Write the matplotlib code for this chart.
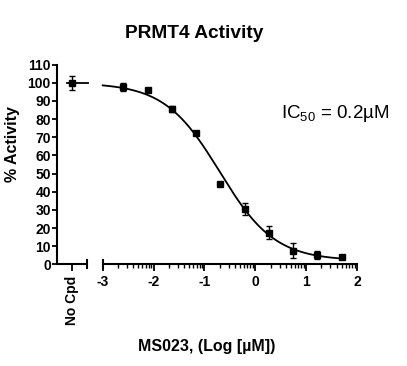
import matplotlib
matplotlib.use("Agg")
import matplotlib.pyplot as plt
import matplotlib.transforms as mtransforms
import numpy as np

plt.rcParams['font.family'] = ['Liberation Sans', 'DejaVu Sans']
plt.rcParams['mathtext.default'] = 'regular'

# data
log_conc = [-2.594, -2.117, -1.640, -1.163, -0.686, -0.209, 0.268, 0.745, 1.222, 1.699]
activity = [97.8, 96.2, 85.6, 72.4, 44.4, 30.5, 17.5, 7.5, 5.1, 4.2]
act_err = [2.2, 0.0, 1.5, 0.0, 0.0, 3.4, 3.8, 4.3, 2.0, 0.0]
no_cpd_x = -3.61
no_cpd_val = 100.0
no_cpd_err = 3.9

# 4PL fit parameters for the drawn curve
fit_top = 100.0
fit_bottom = 2.0
fit_logic50 = -0.7
fit_hill = 0.8

xticks = [-3, -2, -1, 0, 1, 2]
yticks = list(range(0, 111, 10))

fig = plt.figure(figsize=(4.07, 3.66), dpi=100)
ax = fig.add_axes([57/407, 1-264.3/366, 300/407, 199.6/366])
ax.set_xlim(-3.9, 2.0)
ax.set_ylim(0, 110)

# fitted curve
xc = np.linspace(-3.0, 1.7, 300)
yc = fit_bottom + (fit_top-fit_bottom)/(1+10**((xc-fit_logic50)*fit_hill))
ax.plot(xc, yc, color='black', lw=1.3, clip_on=False)

ax.errorbar(log_conc, activity, yerr=act_err, fmt='s', color='black', ms=4.5,
            elinewidth=1.0, capsize=2.2, capthick=1.0, clip_on=False)

# no compound control
ax.plot([-3.71, -3.29], [no_cpd_val, no_cpd_val], color='black', lw=1.3, clip_on=False)
ax.errorbar([no_cpd_x], [no_cpd_val], yerr=[no_cpd_err], fmt='s', color='black', ms=4.5,
            elinewidth=1.0, capsize=2.2, capthick=1.0, clip_on=False)

# axes / broken x axis
for s in ['top', 'right']:
    ax.spines[s].set_visible(False)
ax.spines['left'].set_linewidth(1.5)
ax.spines['bottom'].set_linewidth(1.5)
ax.spines['bottom'].set_bounds(-3, 2)
ax.plot([-3.9, -3.31], [0, 0], color='black', lw=1.5, clip_on=False, solid_capstyle='butt')
trans = mtransforms.blended_transform_factory(ax.transData, ax.transAxes)
for xe in [-3.31, -3.0]:
    ax.plot([xe, xe], [-0.02, 0.02], color='black', lw=1.5, transform=trans, clip_on=False)

ax.set_xticks([no_cpd_x] + xticks)
ax.set_xticklabels(['No Cpd'] + [str(t) for t in xticks], fontsize=10, fontweight='bold')
ax.get_xticklabels()[0].set_rotation(90)
ax.get_xticklabels()[0].set_va('top')
minors = [d + np.log10(k) for d in range(-3, 2) for k in range(2, 10)]
ax.set_xticks(minors, minor=True)
ax.tick_params(axis='x', which='major', length=5, width=1.3, pad=3)
ax.tick_params(axis='x', which='minor', length=3, width=1.0)
ax.set_yticks(yticks)
ax.set_yticklabels([str(t) for t in yticks], fontsize=10, fontweight='bold')
ax.tick_params(axis='y', length=3.5, width=1.3, pad=1)

fig.text(194/407, 1-33/366, 'PRMT4 Activity', fontsize=13.8, fontweight='bold',
         ha='center', va='center')
fig.text(12.5/407, 1-144/366, '% Activity', fontsize=11.5, fontweight='bold',
         rotation=90, ha='center', va='center')
fig.text(206.5/407, 1-347/366, 'MS023, (Log [µM])', fontsize=11.5, fontweight='bold',
         ha='center', va='center')
fig.text(335/407, 1-113/366, r'IC$_{50}$ = 0.2µM', fontsize=13.5,
         ha='center', va='center')

plt.savefig('out.png', dpi=100)
